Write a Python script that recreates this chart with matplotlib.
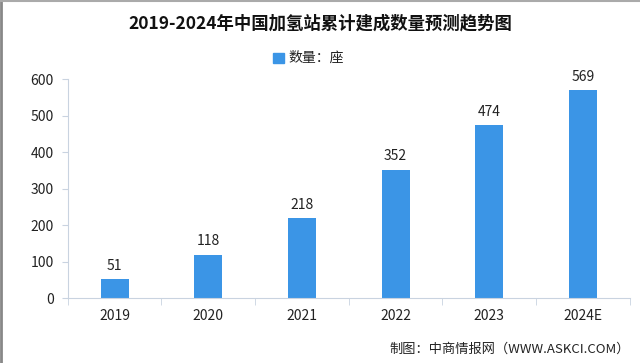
import matplotlib
matplotlib.use("Agg")
import matplotlib.pyplot as plt
from matplotlib.patches import Rectangle

plt.rcParams['font.family'] = ['Noto Sans CJK SC', 'DejaVu Sans']

categories = ['2019', '2020', '2021', '2022', '2023', '2024E']
values = [51, 118, 218, 352, 474, 569]
yticks = [0, 100, 200, 300, 400, 500, 600]

bar_color = '#3b95e6'
axis_color = '#c9d3e0'

fig = plt.figure(figsize=(6.4, 3.63), dpi=100)
fig.patch.set_facecolor('#ffffff')
ax = fig.add_axes([0.106, 0.179, 0.878, 0.603])
ax.set_facecolor('none')

x = list(range(len(categories)))
bars = ax.bar(x, values, width=0.3, color=bar_color, zorder=2)
for xi, v in zip(x, values):
    ax.text(xi, v + 18, str(v), ha='center', va='bottom', fontsize=10, color='#222222')

ax.set_xlim(-0.5, len(categories) - 0.5)
ax.set_ylim(0, 600)
ax.set_yticks(yticks)
ax.set_yticklabels([str(t) for t in yticks], fontsize=10, color='#222222')
ax.set_xticks(x)
ax.set_xticklabels(categories, fontsize=10, color='#222222')
ax.set_xticks([i - 0.5 for i in range(len(categories) + 1)], minor=True)
ax.tick_params(axis='x', which='major', length=0, pad=8)
ax.tick_params(axis='x', which='minor', length=5, color=axis_color, direction='out')
ax.tick_params(axis='y', length=4, color=axis_color, pad=6)

for s in ['top', 'right']:
    ax.spines[s].set_visible(False)
ax.spines['left'].set_color(axis_color)
ax.spines['bottom'].set_color(axis_color)

fig.text(0.5, 0.935, '2019-2024年中国加氢站累计建成数量预测趋势图', ha='center', va='center',
         fontsize=12.5, fontweight='bold', color='#111111')

# legend
fig.patches.append(Rectangle((0.427, 0.826), 0.016, 0.028, transform=fig.transFigure,
                             color=bar_color, figure=fig))
fig.text(0.451, 0.840, '数量：座', ha='left', va='center', fontsize=10, color='#222222')

fig.text(0.985, 0.038, '制图：中商情报网（WWW.ASKCI.COM）', ha='right', va='center',
         fontsize=9.5, color='#222222')

# frame lines (left and top gray)
fig.add_artist(plt.Line2D([0.002, 0.002], [0, 1], color='#888888', lw=2, transform=fig.transFigure))
fig.add_artist(plt.Line2D([0, 1], [0.997, 0.997], color='#aaaaaa', lw=1.5, transform=fig.transFigure))

fig.savefig('out.png', dpi=100)
